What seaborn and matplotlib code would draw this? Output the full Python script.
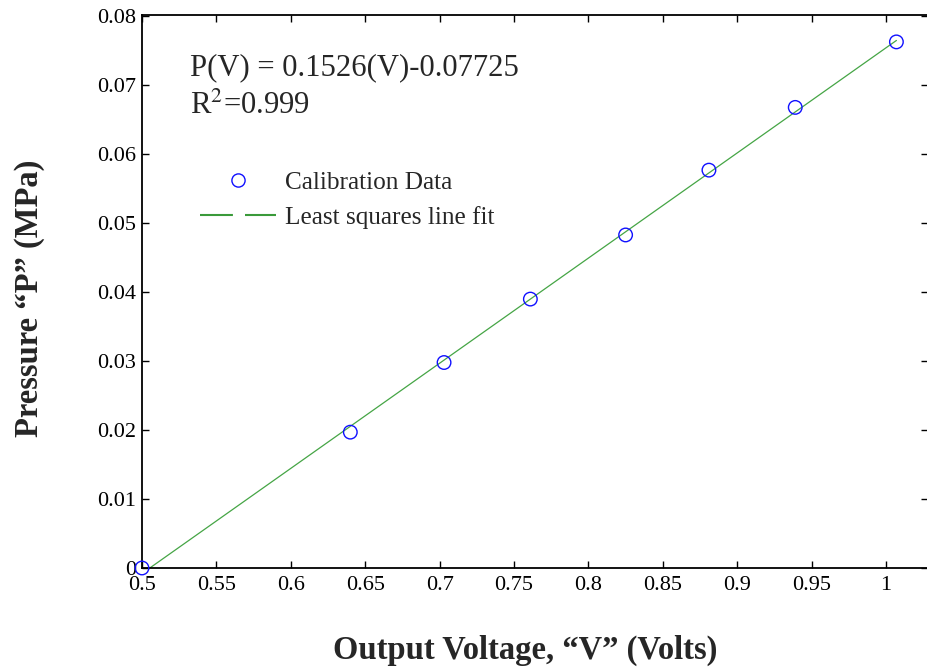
import numpy as np
import pandas as pd
import matplotlib
matplotlib.use("Agg")
import matplotlib.pyplot as plt
from matplotlib.lines import Line2D
import seaborn as sns

voltage = [0.500, 0.640, 0.703, 0.761, 0.825, 0.881, 0.939, 1.007]
pressure = [0.0000, 0.0197, 0.0298, 0.0390, 0.0483, 0.0577, 0.0668, 0.0763]
x_ticks = [0.5, 0.55, 0.6, 0.65, 0.7, 0.75, 0.8, 0.85, 0.9, 0.95, 1.0]
x_labels = ["0.5", "0.55", "0.6", "0.65", "0.7", "0.75", "0.8", "0.85", "0.9", "0.95", "1"]
y_ticks = [0, 0.01, 0.02, 0.03, 0.04, 0.05, 0.06, 0.07, 0.08]
y_labels = ["0", "0.01", "0.02", "0.03", "0.04", "0.05", "0.06", "0.07", "0.08"]

sns.set_style("ticks")
plt.rcParams["font.family"] = ["Liberation Serif", "DejaVu Serif"]
plt.rcParams["mathtext.fontset"] = "stix"

df = pd.DataFrame({"V": voltage, "P": pressure})
coef = np.polyfit(df["V"], df["P"], 1)
fit = pd.DataFrame({"V": [min(voltage), max(voltage)]})
fit["P"] = np.polyval(coef, fit["V"])

fig = plt.figure(figsize=(9.28, 6.69), dpi=100)
W, H = 928, 669
left, right, top, bottom = 142, 928.5, 15, 568
aw, ah = right - left, bottom - top
ax = fig.add_axes([left / W, 1 - bottom / H, aw / W, ah / H])

sns.lineplot(data=fit, x="V", y="P", ax=ax, color="#45a545", linewidth=0.9, zorder=2)
sns.scatterplot(data=df, x="V", y="P", ax=ax, s=95, marker="o", facecolor="none",
                edgecolor="#1010ff", linewidth=1.0, zorder=3)
for coll in ax.collections:
    coll.set_clip_on(False)

ax.set_xlim(0.5, 0.5 + aw / 1488.0)
ax.set_ylim(0, 0.0802)
ax.set_xticks(x_ticks)
ax.set_xticklabels(x_labels)
ax.set_yticks(y_ticks)
ax.set_yticklabels(y_labels)
ax.tick_params(direction="in", length=5, width=1, labelsize=16, top=True, right=True,
               pad=4, colors="black")
ax.tick_params(axis="x", pad=6)
for s in ax.spines.values():
    s.set_linewidth(1.3)
    s.set_color("black")

ax.set_xlabel("Output Voltage, \u201cV\u201d (Volts)", fontsize=23.5, fontweight="bold",
              va="center", ha="center")
ax.set_ylabel("Pressure \u201cP\u201d (MPa)", fontsize=23.5, fontweight="bold",
              va="center", ha="center")
ax.xaxis.set_label_coords((525 - left) / aw, (bottom - 650) / ah)
ax.yaxis.set_label_coords((30 - left) / aw, (bottom - 298) / ah)

ax.text(48 / aw, (bottom - 68) / ah, "P(V) = 0.1526(V)-0.07725", transform=ax.transAxes,
        fontsize=22.1, va="center", ha="left")
ax.text(48 / aw, (bottom - 106) / ah, "R$^2$=0.999", transform=ax.transAxes,
        fontsize=22.1, va="center", ha="left")

handles = [
    Line2D([], [], linestyle="none", marker="o", markersize=9.5, markerfacecolor="none",
           markeredgecolor="#1010ff", markeredgewidth=1.0),
    Line2D([], [], linestyle=(0, (15.8, 5.8)), color="#3a9a3a", linewidth=1.5),
]
leg = ax.legend(handles, ["Calibration Data", "Least squares line fit"], loc="upper left",
                bbox_to_anchor=(0.045, 0.759), frameon=False, fontsize=18.2,
                handlelength=3.0, handletextpad=0.35, labelspacing=0.5)

fig.savefig("out.png", dpi=100)
